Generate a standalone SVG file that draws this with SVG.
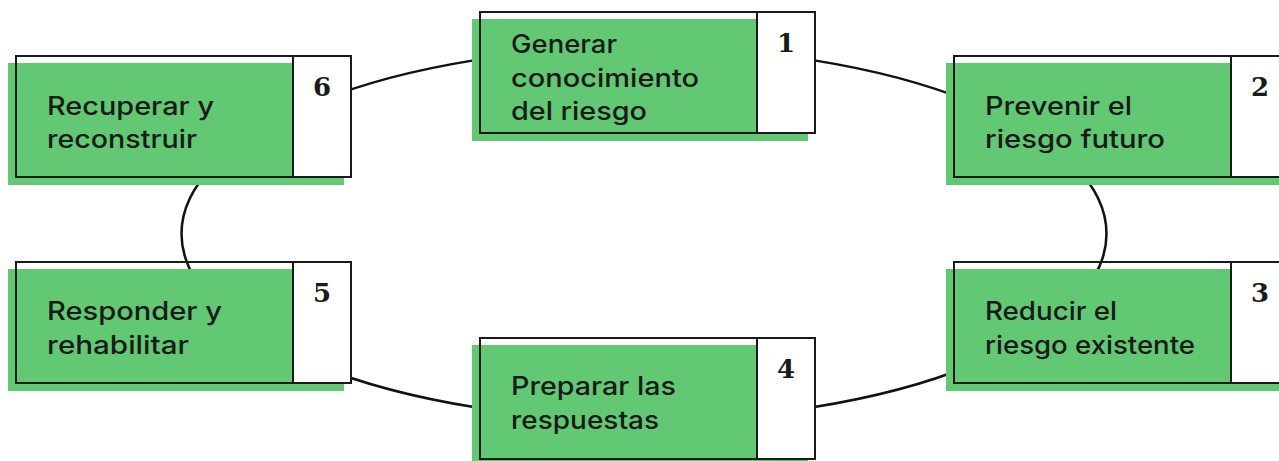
<svg xmlns="http://www.w3.org/2000/svg" width="1279" height="461" viewBox="0 0 1279 461">
<style>
.bg{fill:#62C873}
.ol{fill:none;stroke:#1a1a1a;stroke-width:2}
.nb{fill:#ffffff;stroke:#1a1a1a;stroke-width:2}
.lbl{font-family:Inter,"DejaVu Sans","Liberation Sans",sans-serif;font-weight:500;font-size:25.5px;fill:#1a1a1a}
.num{font-family:"DejaVu Serif","Liberation Serif",serif;font-weight:bold;font-size:26px;fill:#1a1a1a;text-anchor:middle}
.con{fill:none;stroke:#111;stroke-width:2.5}
</style>
<rect width="1279" height="461" fill="#ffffff"/>
<g id="connectors">
<ellipse class="con" cx="644" cy="233.7" rx="462.5" ry="186.4"/>
</g>
<g id="node1">
<rect class="bg" x="472" y="19" width="336" height="122"/>
<rect class="ol" x="480" y="12" width="335" height="121"/>
<rect class="nb" x="757" y="12" width="58" height="121"/>
<text class="num" x="786" y="52">1</text>
<text class="lbl" x="511" y="53" textLength="106" lengthAdjust="spacingAndGlyphs">Generar</text>
<text class="lbl" x="511" y="87" textLength="188" lengthAdjust="spacingAndGlyphs">conocimiento</text>
<text class="lbl" x="511" y="120" textLength="136" lengthAdjust="spacingAndGlyphs">del riesgo</text>
</g>
<g id="node2">
<rect class="bg" x="946" y="63" width="336" height="122"/>
<rect class="ol" x="954" y="56" width="335" height="121"/>
<rect class="nb" x="1231" y="56" width="58" height="121"/>
<text class="num" x="1260" y="96">2</text>
<text class="lbl" x="985" y="115" textLength="147" lengthAdjust="spacingAndGlyphs">Prevenir el</text>
<text class="lbl" x="985" y="148" textLength="180" lengthAdjust="spacingAndGlyphs">riesgo futuro</text>
</g>
<g id="node3">
<rect class="bg" x="946" y="269" width="336" height="122"/>
<rect class="ol" x="954" y="262" width="335" height="121"/>
<rect class="nb" x="1231" y="262" width="58" height="121"/>
<text class="num" x="1260" y="302">3</text>
<text class="lbl" x="985" y="320" textLength="132" lengthAdjust="spacingAndGlyphs">Reducir el</text>
<text class="lbl" x="985" y="354" textLength="210" lengthAdjust="spacingAndGlyphs">riesgo existente</text>
</g>
<g id="node4">
<rect class="bg" x="472" y="345" width="336" height="122"/>
<rect class="ol" x="480" y="338" width="335" height="121"/>
<rect class="nb" x="757" y="338" width="58" height="121"/>
<text class="num" x="786" y="378">4</text>
<text class="lbl" x="511" y="395" textLength="165" lengthAdjust="spacingAndGlyphs">Preparar las</text>
<text class="lbl" x="511" y="429" textLength="148" lengthAdjust="spacingAndGlyphs">respuestas</text>
</g>
<g id="node5">
<rect class="bg" x="8" y="269" width="336" height="122"/>
<rect class="ol" x="16" y="262" width="335" height="121"/>
<rect class="nb" x="293" y="262" width="58" height="121"/>
<text class="num" x="322" y="302">5</text>
<text class="lbl" x="47" y="320" textLength="175" lengthAdjust="spacingAndGlyphs">Responder y</text>
<text class="lbl" x="47" y="354" textLength="142" lengthAdjust="spacingAndGlyphs">rehabilitar</text>
</g>
<g id="node6">
<rect class="bg" x="8" y="63" width="336" height="122"/>
<rect class="ol" x="16" y="56" width="335" height="121"/>
<rect class="nb" x="293" y="56" width="58" height="121"/>
<text class="num" x="322" y="96">6</text>
<text class="lbl" x="47" y="115" textLength="167" lengthAdjust="spacingAndGlyphs">Recuperar y</text>
<text class="lbl" x="47" y="148" textLength="150" lengthAdjust="spacingAndGlyphs">reconstruir</text>
</g>
</svg>
